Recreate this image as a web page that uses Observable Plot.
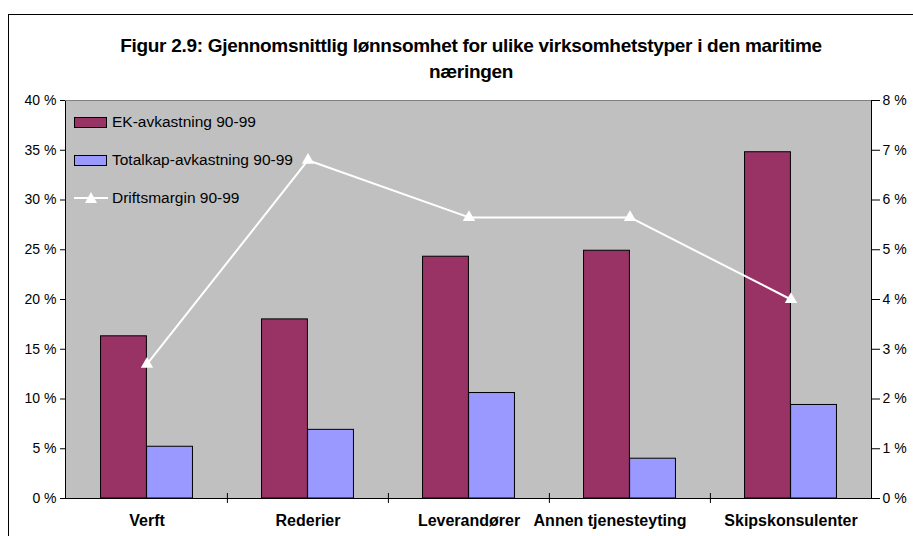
<!DOCTYPE html>
<html><head><meta charset="utf-8">
<script src="https://cdn.jsdelivr.net/npm/d3@7"></script>
<script src="https://cdn.jsdelivr.net/npm/@observablehq/plot@0.6"></script>
<style>
html,body{margin:0;padding:0;background:#fff;}
#wrap{position:relative;width:913px;height:536px;overflow:hidden;font-family:"Liberation Sans",Arial,sans-serif;}
#border{position:absolute;left:8px;top:14px;width:930px;height:560px;border:1px solid #000;box-sizing:border-box;}
#title{position:absolute;left:0;top:33px;width:942px;text-align:center;font-weight:bold;font-size:19px;letter-spacing:-0.3px;line-height:26px;color:#000;}
#chart{position:absolute;left:0;top:90px;}
.leg{position:absolute;font-size:15.5px;color:#000;white-space:nowrap;}
.sw{position:absolute;width:33px;height:11px;border:1px solid #000;box-sizing:border-box;}
</style></head>
<body><div id="wrap">
<div id="border"></div>
<div id="title">Figur 2.9: Gjennomsnittlig lønnsomhet for ulike virksomhetstyper i den maritime<br>næringen</div>
<div id="chart"></div>
<div class="sw" style="left:74px;top:117px;background:#993366"></div>
<div class="leg" style="left:112px;top:113px">EK-avkastning 90-99</div>
<div class="sw" style="left:74px;top:155px;background:#9999FF"></div>
<div class="leg" style="left:112px;top:151px">Totalkap-avkastning 90-99</div>
<svg style="position:absolute;left:74px;top:190px" width="36" height="16"><line x1="0" y1="8" x2="34" y2="8" stroke="#fff" stroke-width="2"/><path d="M17,2 L23,13 L11,13 Z" fill="#fff"/></svg>
<div class="leg" style="left:112px;top:189px">Driftsmargin 90-99</div>
</div>
<script>
const categories = ["Verft", "Rederier", "Leverandører", "Annen tjenesteyting", "Skipskonsulenter"];
const ekAvkastning = [16.3, 18.0, 24.3, 24.9, 34.8];
const totalkapAvkastning = [5.2, 6.9, 10.6, 4.0, 9.4];
const driftsmargin = [2.7, 6.8, 5.65, 5.65, 4.0];
const leftTicks = [0, 5, 10, 15, 20, 25, 30, 35, 40];

const data = categories.map((c, i) => ({cat: c, ek: ekAvkastning[i], tk: totalkapAvkastning[i], dm: driftsmargin[i]}));
const W = 913, mL = 65, mR = 42;
const step = (W - mL - mR) / categories.length;
const barW = step / 3.5;
const gap = (step - 2 * barW) / 2;
const shifted = [categories[3]];
const normal = categories.filter(c => !shifted.includes(c));

const chart = Plot.plot({
  width: W, height: 446,
  marginTop: 10, marginBottom: 38, marginLeft: mL, marginRight: mR,
  style: {fontFamily: "Liberation Sans, Arial, sans-serif", fontSize: "14px", color: "#000", background: "transparent"},
  x: {type: "band", domain: categories, padding: 0, label: null},
  y: {domain: [0, 40], label: null},
  marks: [
    Plot.frame({fill: "#C0C0C0", stroke: "#000"}),
    Plot.ruleY([40], {stroke: "#808080"}),
    Plot.barY(data, {x: "cat", y: "ek", fill: "#993366", stroke: "#000", strokeWidth: 1, insetLeft: gap, insetRight: gap + barW}),
    Plot.barY(data, {x: "cat", y: "tk", fill: "#9999FF", stroke: "#000", strokeWidth: 1, insetLeft: gap + barW, insetRight: gap}),
    Plot.line(data, {x: "cat", y: d => d.dm * 5, stroke: "#fff", strokeWidth: 2}),
    Plot.dot(data, {x: "cat", y: d => d.dm * 5, symbol: "triangle", r: 4.6, fill: "#fff", stroke: null}),
    Plot.ruleX(categories.slice(1), {x: d => d, dx: -step / 2, y1: 0.5, y2: -0.5, stroke: "#000"}),
    Plot.axisY({anchor: "left", ticks: leftTicks, tickFormat: d => d + " %", tickSize: 5, tickPadding: 4, fontSize: 14}),
    Plot.axisY({anchor: "right", ticks: leftTicks, tickFormat: d => (d / 5) + " %", tickSize: 8, tickPadding: 3, fontSize: 14}),
    Plot.axisX({ticks: normal, tickSize: 0, tickPadding: 16, fontWeight: "bold", fontSize: 16}),
    Plot.axisX({ticks: shifted, tickSize: 0, tickPadding: 16, fontWeight: "bold", fontSize: 16, dx: -20})
  ]
});
document.getElementById("chart").appendChild(chart);
</script>
</body></html>
